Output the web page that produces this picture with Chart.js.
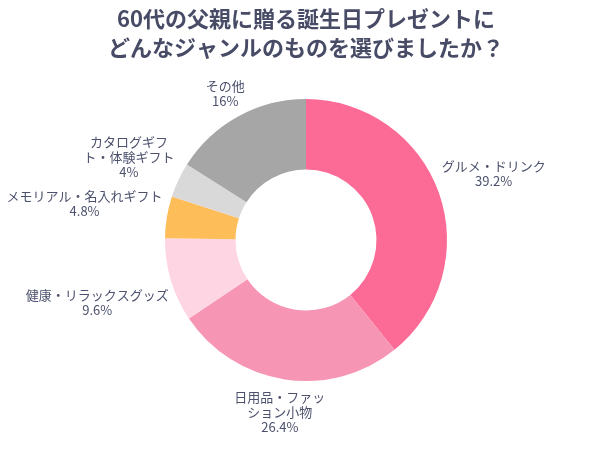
<!DOCTYPE html>
<html lang="ja">
<head>
    <meta charset="UTF-8">
    <title>60代の父親に贈る誕生日プレゼント</title>
    <script src="https://cdn.jsdelivr.net/npm/chart.js@4/dist/chart.umd.min.js"></script>
    <style>
        html, body { margin: 0; padding: 0; background: #fff; }
        #wrap { width: 602px; height: 451px; }
    </style>
</head>
<body>
    <div id="wrap"><canvas id="myChart" width="602" height="451"></canvas></div>

    <script>
        const categories = [
            ['グルメ・ドリンク'],
            ['日用品・ファッ', 'ション小物'],
            ['健康・リラックスグッズ'],
            ['メモリアル・名入れギフト'],
            ['カタログギフ', 'ト・体験ギフト'],
            ['その他']
        ];
        const shares = [39.2, 26.4, 9.6, 4.8, 4, 16];
        const colors = ['#fb6b96', '#f796b4', '#fdd5e3', '#fdbd59', '#d9d9d9', '#a6a6a6'];
        const titleLines = ['60代の父親に贈る誕生日プレゼントに', 'どんなジャンルのものを選びましたか？'];

        const labelFont = '13px "Noto Sans CJK JP", "Noto Sans", sans-serif';
        const lineH = 15;

        // labels outside the ring, pushed out by half the text box
        const outsideLabels = {
            id: 'outsideLabels',
            afterDatasetsDraw(chart) {
                const c = chart.ctx;
                const arcs = chart.getDatasetMeta(0).data;
                c.save();
                c.font = labelFont;
                c.fillStyle = '#4c516d';
                c.textAlign = 'center';
                c.textBaseline = 'middle';
                arcs.forEach((arc, i) => {
                    const p = arc.getProps(['x', 'y', 'startAngle', 'endAngle', 'outerRadius'], true);
                    const mid = (p.startAngle + p.endAngle) / 2;
                    const lines = categories[i].concat([shares[i] + '%']);
                    const w = Math.max(...lines.map(l => c.measureText(l).width));
                    const h = lines.length * lineH;
                    const cos = Math.cos(mid), sin = Math.sin(mid);
                    const push = Math.abs(cos) * w / 2 + Math.abs(sin) * h / 2;
                    const r = p.outerRadius + 4 + push;
                    const cx = p.x + cos * r;
                    const cy = p.y + sin * r;
                    lines.forEach((l, k) => {
                        c.fillText(l, cx, cy - h / 2 + lineH / 2 + k * lineH);
                    });
                });
                c.restore();
            }
        };

        const ctx = document.getElementById('myChart').getContext('2d');
        new Chart(ctx, {
            type: 'doughnut',
            data: {
                labels: categories.map(l => l.join('')),
                datasets: [{
                    data: shares,
                    backgroundColor: colors,
                    borderWidth: 0,
                    radius: 141
                }]
            },
            options: {
                responsive: false,
                animation: false,
                cutout: '50%',
                layout: { padding: { left: 10, right: 0, bottom: 43 } },
                plugins: {
                    legend: { display: false },
                    tooltip: { enabled: false },
                    title: {
                        display: true,
                        text: titleLines,
                        color: '#474b66',
                        font: { size: 22, weight: 'bold', family: '"Noto Sans CJK JP", "Noto Sans", sans-serif', lineHeight: 1.32 },
                        padding: { top: 4, bottom: 10 }
                    }
                }
            },
            plugins: [outsideLabels]
        });
    </script>
</body>
</html>
